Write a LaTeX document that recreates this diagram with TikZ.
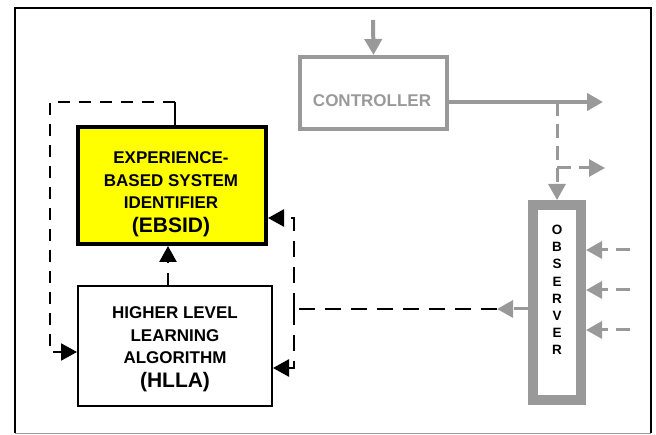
\documentclass[tikz,border=0pt]{standalone}
\usepackage{fontspec}
\setmainfont{Liberation Sans}
\usetikzlibrary{arrows.meta}
\definecolor{ctrlgray}{HTML}{999999}
\definecolor{ebsidyellow}{HTML}{FFFF00}

\begin{document}
\begin{tikzpicture}[x=1pt, y=-1pt,
    >={Triangle[length=16pt,width=17pt]},
    boxtext/.style={align=center, font=\bfseries\fontsize{17}{22.5}\selectfont},
    grayline/.style={ctrlgray, line width=4pt},
    graydash/.style={ctrlgray, line width=3pt, dash pattern=on 14pt off 8pt},
    blackdash/.style={line width=2.5pt, dash pattern=on 16pt off 10pt},
    loopdash/.style={line width=2pt, dash pattern=on 12pt off 9pt}]
    \useasboundingbox (0,0) rectangle (656,435);
    % outer frame
    \draw[line width=2.5pt] (15,433) -- (15,8) -- (651,8) -- (651,433);
    \draw[ctrlgray, line width=1pt] (15,433) -- (651,433);

    % blocks (units of pixels of the original)
    \node[draw=ctrlgray, line width=4pt, minimum width=147pt, minimum height=72pt] (ctrl) at (373.5,93) {};
    \node[boxtext, text=ctrlgray] (ctrltext) at (372,101) {CONTROLLER};
    \node[draw, fill=ebsidyellow, line width=4pt, minimum width=188pt, minimum height=117pt] (ebsid) at (172,185.5) {};
    \node[boxtext] (ebsidtext) at (171,194) {EXPERIENCE-\\BASED SYSTEM\\IDENTIFIER\\[1pt]{\fontsize{21}{24}\selectfont (EBSID)}};
    \node[draw, line width=2pt, minimum width=194pt, minimum height=120pt] (hlla) at (175,346) {};
    \node[boxtext] (hllatext) at (175,349) {HIGHER LEVEL\\LEARNING\\ALGORITHM\\[1pt]{\fontsize{21}{24}\selectfont (HLLA)}};
    \node[draw=ctrlgray, line width=10pt, minimum width=48pt, minimum height=195pt] (obs) at (557,302.5) {};
    \node[align=center, font=\bfseries\fontsize{13.5}{17.2}\selectfont] (obstext) at (557,290) {O\\B\\S\\E\\R\\V\\E\\R};

    % controller signals
    \coordinate (ctrlin) at (373,20);
    \coordinate (ctrlout) at (603,102);
    \coordinate (sideout) at (605,168);
    \draw[grayline, ->] (ctrlin) -- (ctrl.north);
    \draw[grayline, ->] (ctrl.east |- ctrlout) -- (ctrlout);
    \draw[graydash, ->] (obs.north |- ctrlout) -- (obs.north);
    \draw[graydash, ->] (obs.north |- sideout) -- (sideout);
    \foreach \y in {250,290,330} {
        \coordinate (in\y) at (630,\y);
        \draw[graydash, ->] (in\y) -- (obs.east |- in\y);
    }

    % learning loop
    \coordinate (looptop) at (175,102);
    \coordinate (loopleft) at (50,102);
    \coordinate (hllain) at (77,352);
    \coordinate (up) at (168,0);
    \draw[line width=2pt] (ebsid.north -| looptop) -- (looptop);
    \draw[loopdash, ->] (looptop) -- (loopleft) |- (hlla.west |- hllain);
    \draw[line width=2.5pt, dash pattern=on 12pt off 10pt, ->] (hlla.north -| up) -- (ebsid.south -| up);

    % observer feedback
    \coordinate (split) at (294,309);
    \coordinate (obsout) at (497,309);
    \coordinate (ebsidin) at (268,218);
    \coordinate (hllaback) at (273,368);
    \draw[graydash, ->] (obs.west |- obsout) -- (obsout);
    \draw[blackdash] (obsout) -- (split);
    \draw[blackdash, ->] (split) |- (ebsid.east |- ebsidin);
    \draw[blackdash, ->] (split) |- (hlla.east |- hllaback);
\end{tikzpicture}
\end{document}
